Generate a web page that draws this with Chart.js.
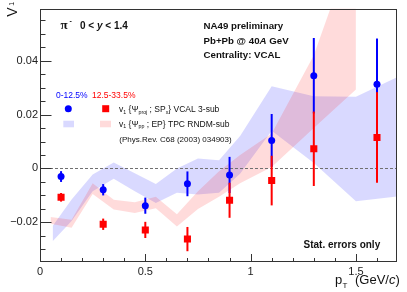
<!DOCTYPE html>
<html>
<head>
<meta charset="utf-8">
<script src="https://cdn.jsdelivr.net/npm/chart.js@4.4.1/dist/chart.umd.min.js"></script>
<style>
  html, body { margin: 0; padding: 0; background: #fff; }
  #wrap { width: 407px; height: 292px; }
</style>
</head>
<body>
<div id="wrap"><canvas id="v1Chart" width="407" height="292"></canvas></div>
<script>
// VCAL 3-sub points (pT in GeV/c)
const ptPoints = [0.1, 0.3, 0.5, 0.7, 0.9, 1.1, 1.3, 1.6];
const v1Central = [-0.0030, -0.0079, -0.0138, -0.0057, -0.0024, 0.0104, 0.0344, 0.0312];
const v1CentralErr = [0.0020, 0.0021, 0.0030, 0.0046, 0.0067, 0.0098, 0.0140, 0.0170];
const v1MidCentral = [-0.0107, -0.0207, -0.0228, -0.0262, -0.0118, -0.0045, 0.0073, 0.0115];
const v1MidCentralErr = [0.0016, 0.0021, 0.0030, 0.0045, 0.0065, 0.0092, 0.0138, 0.0168];

// TPC RNDM-sub bands (Phys.Rev. C68)
const bandBluePt = [0.06, 0.15, 0.25, 0.35, 0.45, 0.55, 0.65, 0.75, 0.85, 0.95, 1.1, 1.3, 1.5, 1.7];
const bandBlueHigh = [-0.0213, -0.0115, -0.0022, 0.0022, -0.0018, -0.0058, 0.0000, 0.0037, 0.0030, 0.0120, 0.0305, 0.0268, 0.0266, 0.0340];
const bandBlueLow = [-0.0270, -0.0195, -0.0085, -0.0038, -0.0085, -0.0128, -0.0090, -0.0097, -0.0090, -0.0020, 0.0140, 0.0020, -0.0122, -0.0104];
const bandRedPt = [0.05, 0.15, 0.25, 0.35, 0.45, 0.55, 0.65, 0.75, 0.85, 0.95, 1.1, 1.3, 1.5];
const bandRedHigh = [-0.0180, -0.0190, -0.0055, -0.0116, -0.0125, -0.0105, -0.0170, -0.0085, -0.0010, 0.0050, 0.0130, 0.0420, 0.0860];
const bandRedLow = [-0.0205, -0.0220, -0.0095, -0.0152, -0.0165, -0.0148, -0.0215, -0.0150, -0.0105, -0.0055, 0.0005, 0.0150, 0.0293];

// axes
const xTicks = [0, 0.5, 1, 1.5];
const xTickLabels = ["0", "0.5", "1", "1.5"];
const yTicks = [-0.02, 0, 0.02, 0.04];
const yTickLabels = ["\u22120.02", "0", "0.02", "0.04"];

const FONT = '"Liberation Sans", Arial, Helvetica, sans-serif';
const BLUE = "#0000ff";
const RED = "#ff0000";

const toXY = (xs, ys) => xs.map((x, i) => ({ x, y: ys[i] }));

// draws text made of pieces: [text, kind] with kind '', 'sub', 'sup', 'i'
function drawRich(ctx, x, y, parts, size, color, weight) {
  let cx = x;
  ctx.fillStyle = color;
  ctx.textAlign = "left";
  ctx.textBaseline = "alphabetic";
  parts.forEach(([t, k]) => {
    const small = k === "sub" || k === "sup";
    const fs = small ? size * 0.62 : size;
    ctx.font = `${k === "i" ? "italic " : ""}${weight || ""} ${fs}px ${FONT}`;
    let dy = 0;
    if (k === "sub") dy = size * 0.22;
    if (k === "sup") dy = -size * 0.42;
    ctx.fillText(t, cx, y + dy);
    cx += ctx.measureText(t).width;
  });
  return cx;
}

const rootStyle = {
  id: "rootStyle",
  beforeDatasetDraw(chart, args) {
    const ds = chart.data.datasets[args.index];
    const { ctx, chartArea: a, scales: { x, y } } = chart;
    if (ds.zeroLine) {
      // dashed line at v1 = 0
      const py = Math.round(y.getPixelForValue(0)) + 0.5;
      ctx.save();
      ctx.strokeStyle = "#707070";
      ctx.lineWidth = 1;
      ctx.setLineDash([3, 2]);
      ctx.beginPath();
      ctx.moveTo(a.left, py);
      ctx.lineTo(a.right, py);
      ctx.stroke();
      ctx.restore();
    }
    if (!ds.errors) return;
    ctx.save();
    ctx.strokeStyle = ds.backgroundColor;
    ctx.lineWidth = 2;
    ds.data.forEach((p, i) => {
      const px = x.getPixelForValue(p.x);
      ctx.beginPath();
      ctx.moveTo(px, y.getPixelForValue(p.y + ds.errors[i]));
      ctx.lineTo(px, y.getPixelForValue(p.y - ds.errors[i]));
      ctx.stroke();
    });
    ctx.restore();
  },
  afterDraw(chart) {
    const { ctx, chartArea: a, scales: { x, y } } = chart;
    const L = Math.round(a.left) + 0.5, R = Math.round(a.right) - 0.5;
    const T = Math.round(a.top) + 0.5, B = Math.round(a.bottom) - 0.5;
    ctx.save();
    ctx.strokeStyle = "#333";
    ctx.lineWidth = 1;
    ctx.strokeRect(L, T, R - L, B - T);

    // inside ticks, ROOT style
    ctx.beginPath();
    for (let k = 1; k <= 16; k++) {
      const v = k / 10;
      const px = Math.round(x.getPixelForValue(v)) + 0.5;
      const len = k % 5 === 0 ? 7.5 : 3.5;
      ctx.moveTo(px, B);
      ctx.lineTo(px, B - len);
    }
    for (let k = -6; k <= 11; k++) {
      const v = k * 0.005;
      const py = Math.round(y.getPixelForValue(v)) + 0.5;
      const len = k % 4 === 0 ? 11 : 5;
      ctx.moveTo(L, py);
      ctx.lineTo(L + len, py);
    }
    ctx.stroke();

    // axis titles
    ctx.fillStyle = "#111";
    ctx.font = `13px ${FONT}`;
    ctx.fillText("p", 335, 284);
    ctx.font = `8px ${FONT}`;
    ctx.fillText("T", 342.5, 288);
    drawRich(ctx, 355, 284, [["(GeV/", ""], ["c", "i"], [")", ""]], 13, "#111");

    ctx.save();
    ctx.translate(16.7, 16.7);
    ctx.rotate(-Math.PI / 2);
    ctx.font = `14px ${FONT}`;
    ctx.fillText("V", 0, 0);
    ctx.font = `7px ${FONT}`;
    ctx.fillText("1", 11, -2.5);
    ctx.restore();

    // header texts
    ctx.font = `bold 13px "Liberation Serif", "DejaVu Serif", serif`;
    ctx.fillStyle = "#111";
    ctx.fillText("\u03c0", 60.5, 29.3);
    ctx.font = `bold 7px ${FONT}`;
    ctx.fillText("-", 69.5, 23);
    drawRich(ctx, 80, 28.8, [["0 < ", ""], ["y", "i"], [" < 1.4", ""]], 10, "#111", "bold");
    drawRich(ctx, 203.5, 29.3, [["NA49 preliminary", ""]], 9.7, "#111", "bold");
    drawRich(ctx, 203.5, 43.5, [["Pb+Pb @ 40", ""], ["A", "i"], [" GeV", ""]], 9.7, "#111", "bold");
    drawRich(ctx, 203.5, 57.8, [["Centrality: VCAL", ""]], 9.7, "#111", "bold");
    drawRich(ctx, 303.5, 248.3, [["Stat. errors only", ""]], 10, "#111", "bold");

    // legend
    drawRich(ctx, 56, 98.2, [["0-12.5%", ""]], 8.5, BLUE);
    drawRich(ctx, 92, 98.2, [["12.5-33.5%", ""]], 8.5, RED);
    ctx.fillStyle = BLUE;
    ctx.beginPath();
    ctx.arc(68.3, 108.7, 3.5, 0, Math.PI * 2);
    ctx.fill();
    ctx.fillStyle = RED;
    ctx.fillRect(102.2, 105.2, 7, 7);
    ctx.fillStyle = "rgba(0,0,255,0.15)";
    ctx.fillRect(63.3, 120.7, 10.7, 6.6);
    ctx.fillStyle = "rgba(255,0,0,0.14)";
    ctx.fillRect(100, 120.7, 11, 6.6);
    drawRich(ctx, 119, 112.2, [["v", ""], ["1", "sub"], [" {\u03a8", ""], ["proj", "sub"], [" ; SP", ""], ["x", "sub"], ["} VCAL 3-sub", ""]], 8.5, "#111");
    drawRich(ctx, 119, 126.5, [["v", ""], ["1", "sub"], [" {\u03a8", ""], ["pp", "sub"], [" ; EP} TPC RNDM-sub", ""]], 8.5, "#111");
    drawRich(ctx, 119.3, 142, [["(Phys.Rev. C68 (2003) 034903)", ""]], 8, "#111");
    ctx.restore();
  }
};

const bandLine = {
  type: "line",
  showLine: true,
  borderWidth: 0,
  borderColor: "rgba(0,0,0,0)",
  pointRadius: 0,
  tension: 0
};

new Chart(document.getElementById("v1Chart"), {
  type: "scatter",
  data: {
    datasets: [
      {
        label: "12.5-33.5%",
        data: toXY(ptPoints, v1MidCentral),
        errors: v1MidCentralErr,
        pointStyle: "rect",
        pointRadius: 5,
        backgroundColor: RED,
        borderWidth: 0
      },
      {
        label: "0-12.5%",
        data: toXY(ptPoints, v1Central),
        errors: v1CentralErr,
        zeroLine: true,
        pointStyle: "circle",
        pointRadius: 3.5,
        backgroundColor: BLUE,
        borderWidth: 0
      },
      { ...bandLine, label: "red high", data: toXY(bandRedPt, bandRedHigh), fill: false },
      { ...bandLine, label: "red low", data: toXY(bandRedPt, bandRedLow), fill: "-1", backgroundColor: "rgba(255,0,0,0.14)" },
      { ...bandLine, label: "blue high", data: toXY(bandBluePt, bandBlueHigh), fill: false },
      { ...bandLine, label: "blue low", data: toXY(bandBluePt, bandBlueLow), fill: "-1", backgroundColor: "rgba(0,0,255,0.15)" }
    ]
  },
  options: {
    responsive: false,
    animation: false,
    devicePixelRatio: 1,
    layout: { padding: { top: 5, right: 10, left: 0, bottom: 0 } },
    plugins: { legend: { display: false }, tooltip: { enabled: false } },
    scales: {
      x: {
        type: "linear",
        min: 0,
        max: 1.695,
        afterBuildTicks: s => { s.ticks = xTicks.map(v => ({ value: v })); },
        afterFit: s => { s.height = 30; },
        grid: { display: false, drawTicks: false, tickLength: 0 },
        border: { display: false },
        ticks: {
          padding: 3,
          color: "#222",
          font: { family: FONT, size: 11 },
          maxRotation: 0,
          callback: v => xTickLabels[xTicks.indexOf(v)]
        }
      },
      y: {
        type: "linear",
        min: -0.0347,
        max: 0.0593,
        afterBuildTicks: s => { s.ticks = yTicks.map(v => ({ value: v })); },
        afterFit: s => { s.width = 40; },
        grid: { display: false, drawTicks: false, tickLength: 0 },
        border: { display: false },
        ticks: {
          padding: 2,
          color: "#222",
          font: { family: FONT, size: 11 },
          callback: v => yTickLabels[yTicks.indexOf(v)]
        }
      }
    }
  },
  plugins: [rootStyle]
});
</script>
</body>
</html>
